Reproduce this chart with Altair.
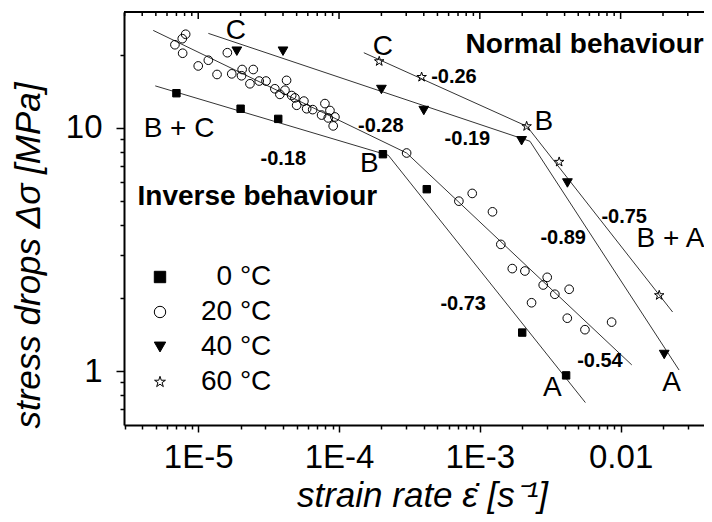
import altair as alt
import pandas as pd

# ---------------- data ----------------
temps = ["\u200b\u20070 °C", "20 °C", "40 °C", "60 °C"]

x_0C = [7.0e-6, 2.0e-5, 3.7e-5, 2.05e-4, 4.2e-4, 2.0e-3, 4.1e-3]
y_0C = [13.9, 12.0, 10.9, 7.8, 5.6, 1.44, 0.96]

x_20C = [8.14e-6, 7.70e-6, 6.83e-6, 7.75e-6, 1.61e-5, 1.18e-5, 1.0e-5, 1.36e-5,
         1.73e-5, 2.05e-5, 2.46e-5, 2.03e-5, 2.33e-5, 2.71e-5, 3.03e-5, 3.50e-5,
         4.24e-5, 4.13e-5, 3.80e-5, 4.61e-5, 4.86e-5, 5.00e-5, 5.63e-5, 5.89e-5,
         6.50e-5, 7.94e-5, 8.62e-5, 7.52e-5, 8.38e-5, 9.35e-5, 9.09e-5, 3.02e-4,
         7.10e-4, 8.83e-4, 1.23e-3, 1.41e-3, 1.70e-3, 2.09e-3, 3.01e-3, 2.82e-3,
         4.31e-3, 3.41e-3, 2.33e-3, 4.18e-3, 5.58e-3, 8.63e-3]
y_20C = [24.3, 23.3, 22.0, 20.3, 20.4, 19.0, 18.0, 16.6,
         16.7, 17.4, 17.4, 16.4, 15.2, 15.6, 15.6, 14.5,
         15.7, 14.3, 13.75, 13.6, 13.3, 12.4, 12.9, 12.0,
         11.9, 12.6, 11.8, 11.3, 11.0, 11.1, 10.2, 7.89,
         5.00, 5.38, 4.52, 3.32, 2.64, 2.58, 2.43, 2.26,
         2.17, 2.07, 1.91, 1.65, 1.48, 1.59]

x_40C = [1.88e-5, 4.0e-5, 2.0e-4, 4.0e-4, 1.98e-3, 4.19e-3, 2.04e-2]
y_40C = [20.7, 20.7, 14.4, 11.8, 8.86, 5.94, 1.17]

x_60C = [1.93e-4, 3.86e-4, 2.15e-3, 3.66e-3, 1.88e-2]
y_60C = [18.8, 16.2, 10.16, 7.25, 2.05]

# fitted power-law lines (start, break point, end)
fit_x_0C = [4.95e-6, 2.24e-4, 5.62e-3]
fit_y_0C = [14.9, 7.72, 0.742]
fit_x_20C = [4.79e-6, 3.02e-4, 1.20e-2]
fit_y_20C = [25.2, 7.89, 1.06]
fit_x_40C = [1.18e-5, 2.27e-3, 2.6e-2]
fit_y_40C = [24.5, 8.82, 1.01]
fit_x_60C = [1.50e-4, 2.16e-3, 2.34e-2]
fit_y_60C = [20.4, 10.16, 1.75]

# annotations
letter_text = ["C", "C", "B", "B", "B + C", "B + A", "A", "A"]
letter_x = [1.85e-5, 2.05e-4, 1.64e-4, 2.85e-3, 7.31e-6, 2.26e-2, 3.28e-3, 2.30e-2]
letter_y = [25.0, 21.5, 7.14, 10.58, 9.94, 3.50, 0.855, 0.897]

slope_text = ["-0.26", "-0.28", "-0.19", "-0.18", "-0.75", "-0.89", "-0.73", "-0.54"]
slope_x = [6.55e-4, 1.98e-4, 8.16e-4, 4.02e-5, 1.06e-2, 3.91e-3, 7.62e-4, 7.13e-3]
slope_y = [16.2, 10.18, 8.99, 7.44, 4.32, 3.54, 1.886, 1.099]

region_text = ["Normal behaviour", "Inverse behaviour"]
region_x = [5.55e-3, 2.63e-5]
region_y = [21.93, 5.19]

# axes
x_major = [1e-5, 1e-4, 1e-3, 1e-2]
x_major_labels = ["1E-5", "1E-4", "1E-3", "0.01"]
x_minor = [3e-6, 4e-6, 5e-6, 6e-6, 7e-6, 8e-6, 9e-6,
           2e-5, 3e-5, 4e-5, 5e-5, 6e-5, 7e-5, 8e-5, 9e-5,
           2e-4, 3e-4, 4e-4, 5e-4, 6e-4, 7e-4, 8e-4, 9e-4,
           2e-3, 3e-3, 4e-3, 5e-3, 6e-3, 7e-3, 8e-3, 9e-3,
           2e-2, 3e-2]
y_major = [1, 10]
y_major_labels = ["1", "10"]
y_minor = [0.7, 0.8, 0.9, 2, 3, 4, 5, 6, 7, 8, 9, 20]

X_DOMAIN = [2.97e-6, 0.0391]
Y_DOMAIN = [0.6, 30]
W, H = 580, 413
FONT = "Liberation Sans"

STAR = ("M0,-1L0.2245,-0.309L0.9511,-0.309L0.3633,0.118L0.5878,0.809L0,0.382"
        "L-0.5878,0.809L-0.3633,0.118L-0.9511,-0.309L-0.2245,-0.309Z")
SHAPES = ["square", "circle", "triangle-down", STAR]
FILLS = ["black", "transparent", "black", "transparent"]
SIZES = [55, 75, 95, 100]

# ---------------- tables ----------------
pts = pd.concat([
    pd.DataFrame({"x": x_0C, "y": y_0C, "temp": temps[0]}),
    pd.DataFrame({"x": x_20C, "y": y_20C, "temp": temps[1]}),
    pd.DataFrame({"x": x_40C, "y": y_40C, "temp": temps[2]}),
    pd.DataFrame({"x": x_60C, "y": y_60C, "temp": temps[3]}),
], ignore_index=True)

fits = pd.concat([
    pd.DataFrame({"x": fit_x_0C, "y": fit_y_0C, "series": "0"}),
    pd.DataFrame({"x": fit_x_20C, "y": fit_y_20C, "series": "20"}),
    pd.DataFrame({"x": fit_x_40C, "y": fit_y_40C, "series": "40"}),
    pd.DataFrame({"x": fit_x_60C, "y": fit_y_60C, "series": "60"}),
], ignore_index=True)

letters = pd.DataFrame({"x": letter_x, "y": letter_y, "t": letter_text})
slopes = pd.DataFrame({"x": slope_x, "y": slope_y, "t": slope_text})
regions = pd.DataFrame({"x": region_x, "y": region_y, "t": region_text})

top_major = pd.DataFrame({"x": x_major})
top_minor = pd.DataFrame({"x": x_minor})
top_edge = pd.DataFrame({"y": [Y_DOMAIN[1]]})

# ---------------- scales & axes ----------------
xscale = alt.Scale(type="log", domain=X_DOMAIN, nice=False, padding=0)
yscale = alt.Scale(type="log", domain=Y_DOMAIN, nice=False, padding=0)

MAJOR_TEST = "abs(log(datum.value)/LN10 - round(log(datum.value)/LN10)) < 1e-6"


def label_expr(vals, labels):
    parts = [f"abs(datum.value - {v!r}) < {v * 1e-6!r} ? '{l}'" for v, l in zip(vals, labels)]
    return " : ".join(parts) + " : ''"


common_axis = dict(
    grid=False, domain=True, domainColor="black", domainWidth=2,
    tickColor="black", tickWidth=1.5, labelColor="black",
    labelFont=FONT, labelOverlap=False, labelFlush=False, labelBound=False,
    titleFont=FONT, titleFontStyle="italic", titleFontWeight="normal",
    titleColor="black",
)

x_axis = alt.Axis(
    values=x_major + x_minor,
    labelExpr=label_expr(x_major, x_major_labels),
    tickSize={"condition": {"test": MAJOR_TEST, "value": 7}, "value": 4},
    labelFontSize=33, labelPadding=9,
    title="strain rate ε̇ [s⁻¹]", titleFontSize=35, titlePadding=4,
    titleX=298,
    **common_axis,
)
y_axis = alt.Axis(
    values=y_major + y_minor,
    labelExpr=label_expr(y_major, y_major_labels),
    tickSize={"condition": {"test": MAJOR_TEST, "value": 8}, "value": 4},
    labelFontSize=33, labelPadding=14,
    title="stress drops Δσ [MPa]", titleFontSize=35, titlePadding=19,
    titleY=243,
    **common_axis,
)


def X():
    return alt.X("x:Q", scale=xscale, axis=x_axis)


def Y():
    return alt.Y("y:Q", scale=yscale, axis=y_axis)


legend = alt.Legend(
    title=None, orient="none", legendX=22, legendY=251, padding=0,
    symbolSize=130, symbolStrokeColor="black", symbolStrokeWidth=1,
    labelFont=FONT, labelFontSize=28, labelColor="black", labelOffset=27,
    rowPadding=7, labelLimit=0,
)

lines = alt.Chart(fits).mark_line(color="black", strokeWidth=0.8).encode(
    x=X(), y=Y(), detail="series:N")

point_layers = [
    alt.Chart(pts).transform_filter(alt.datum.temp == t).mark_point(
        size=s, strokeWidth=1, opacity=1).encode(
        x=X(), y=Y(),
        shape=alt.Shape("temp:N", scale=alt.Scale(domain=temps, range=SHAPES), legend=legend),
        fill=alt.Fill("temp:N", scale=alt.Scale(domain=temps, range=FILLS), legend=legend),
        stroke=alt.Stroke("temp:N", scale=alt.Scale(domain=temps, range=["black"] * 4), legend=legend),
    )
    for t, s in zip(temps, SIZES)
]

letter_layer = alt.Chart(letters).mark_text(font=FONT, fontSize=28, color="black",
                                             align="center", baseline="middle").encode(
    x=X(), y=Y(), text="t:N")
slope_layer = alt.Chart(slopes).mark_text(font=FONT, fontSize=20, fontWeight="bold", color="black",
                                           align="center", baseline="middle").encode(
    x=X(), y=Y(), text="t:N")
region_layer = alt.Chart(regions).mark_text(font=FONT, fontSize=28, fontWeight="bold", color="black",
                                             align="center", baseline="middle").encode(
    x=X(), y=Y(), text="t:N")

top_line = alt.Chart(top_edge).mark_rule(color="black", strokeWidth=2).encode(
    y=Y(), x=alt.value(0), x2=alt.value(W))
top_major_ticks = alt.Chart(top_major).mark_rule(color="black", strokeWidth=1.5).encode(
    x=X(), y=alt.value(0), y2=alt.value(7))
top_minor_ticks = alt.Chart(top_minor).mark_rule(color="black", strokeWidth=1.5).encode(
    x=X(), y=alt.value(0), y2=alt.value(4))

chart = alt.layer(
    lines, *point_layers, letter_layer, slope_layer, region_layer,
    top_line, top_major_ticks, top_minor_ticks,
).properties(
    width=W, height=H,
    padding={"left": 116, "top": 4, "right": 0, "bottom": 89},
    autosize=alt.AutoSizeParams(type="none"),
    background="white",
).configure(font=FONT).configure_view(stroke=None)

chart.save("out.html", embed_options={"renderer": "svg", "actions": False})
